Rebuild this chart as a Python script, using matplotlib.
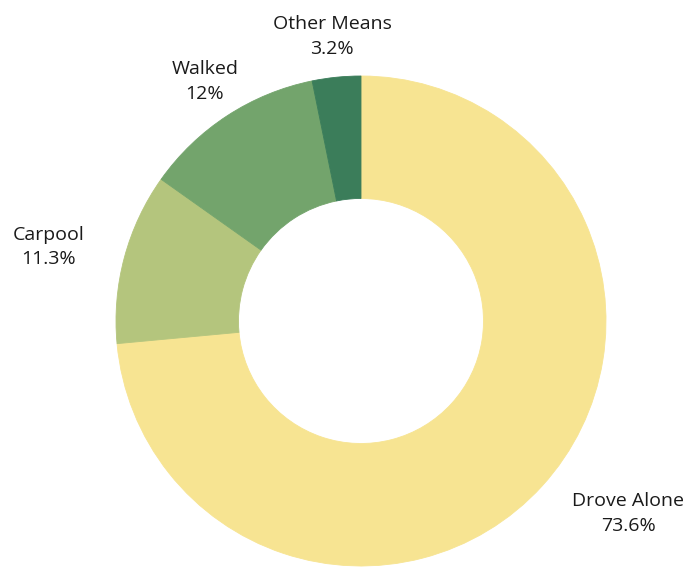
import matplotlib.pyplot as plt

labels = ['Drove Alone', 'Carpool', 'Walked', 'Other Means']
shares = [73.6, 11.3, 12, 3.2]
share_text = ['73.6%', '11.3%', '12%', '3.2%']
colors = ['#F7E492', '#B4C57D', '#73A46C', '#3B7D5A']

plt.rcParams['font.family'] = ['Open Sans', 'DejaVu Sans']

fig = plt.figure(figsize=(6.94, 5.72), dpi=100)
ax = fig.add_axes([0, 0, 1, 1])

# center of the ring sits at pixel (361, 321), radius 245 px
scale = 245.0
wedges, texts = ax.pie(shares, colors=colors, startangle=90, counterclock=False,
                       radius=1.0, labels=[l + '\n' + s for l, s in zip(labels, share_text)],
                       labeldistance=1.167,
                       wedgeprops=dict(width=0.5, linewidth=0.6, edgecolor=None),
                       textprops=dict(fontsize=14, color='#1a1a1a', linespacing=1.45,
                                      multialignment='center'))
for w in wedges:
    w.set_edgecolor(w.get_facecolor())

# label alignment as in the reference
aligns = ['left', 'right', 'center', 'center']
for t, a in zip(texts, aligns):
    t.set_ha(a)
    t.set_va('center')

ax.set_xlim(-361 / scale, (694 - 361) / scale)
ax.set_ylim(-(572 - 321) / scale, 321 / scale)
ax.set_aspect('equal')
ax.axis('off')

fig.savefig('out.png', dpi=100)
